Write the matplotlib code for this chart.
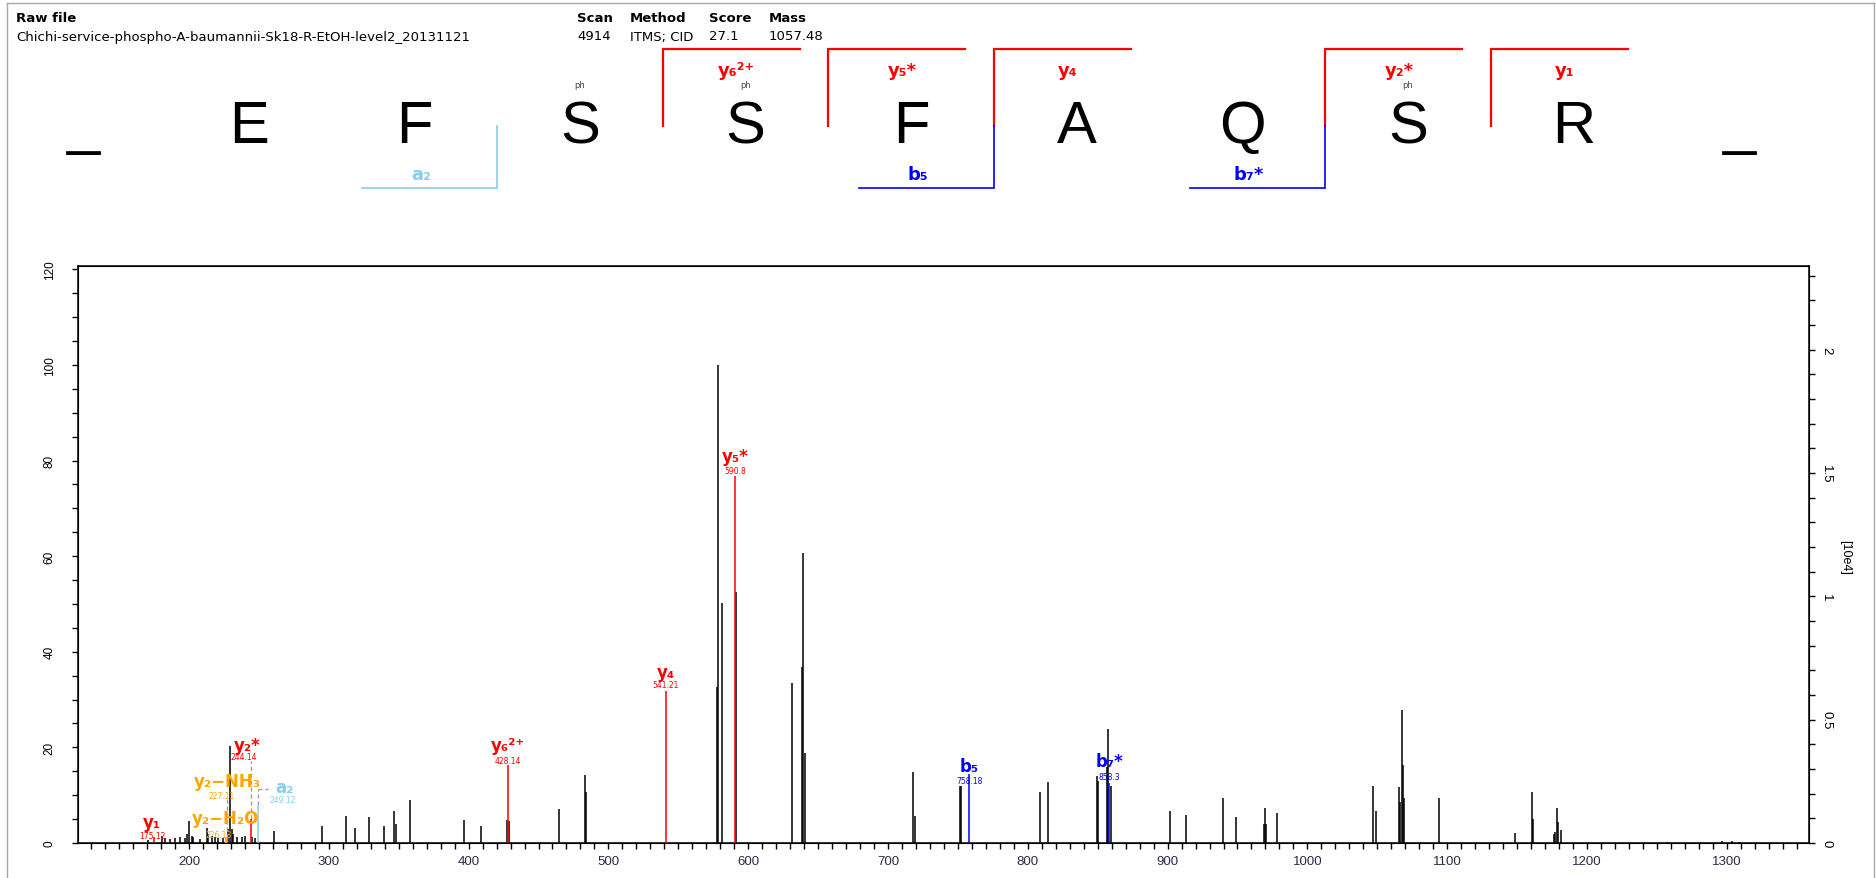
import numpy as np
import matplotlib
matplotlib.use("Agg")
import matplotlib.pyplot as plt
from matplotlib.ticker import MultipleLocator, FuncFormatter

# ---- header info
raw_file = "Chichi-service-phospho-A-baumannii-Sk18-R-EtOH-level2_20131121"
info_heads = ["Scan", "Method", "Score", "Mass"]
info_values = ["4914", "ITMS; CID", "27.1", "1057.48"]

# ---- peptide and fragment coverage
residues = ["E", "F", "S", "S", "F", "A", "Q", "S", "R"]
phospho = [False, False, True, True, False, False, False, True, False]

y_frag_labels = ["y₆²⁺", "y₅*", "y₄", "y₂*", "y₁"]
y_frag_n = [6, 5, 4, 2, 1]
b_frag_labels = ["a₂", "b₅", "b₇*"]
b_frag_n = [2, 5, 7]
b_frag_colors = ["#87ceeb", "#0000ff", "#0000ff"]

# ---- spectrum: unassigned peaks (m/z, relative intensity %)
peak_mz = [171.0, 180.5, 182.8, 186.4, 190.0, 193.6, 197.1, 198.8, 200.2, 201.9,
           203.1, 207.9, 212.6, 213.9, 216.2, 218.6, 221.0, 224.5, 228.1, 229.2,
           230.5, 231.6, 234.0, 237.6, 240.0, 245.3, 247.2, 260.8, 295.0, 312.4,
           319.0, 328.5, 339.7, 346.8, 348.0, 358.2, 396.9, 409.0, 427.4, 428.9,
           464.6, 483.0, 483.9, 577.8, 578.7, 581.3, 591.6, 631.1, 638.5, 639.4,
           640.4, 717.7, 719.5, 751.5, 752.2, 808.7, 814.2, 849.6, 850.2, 856.8,
           857.2, 859.3, 901.7, 913.2, 939.4, 948.7, 969.2, 969.9, 970.5, 978.3,
           1047.1, 1049.1, 1065.7, 1066.2, 1067.6, 1068.3, 1069.3, 1093.9, 1148.5, 1160.7,
           1161.4, 1176.6, 1177.3, 1178.3, 1179.0, 1181.2, 1257.0, 1296.6, 1303.7, 1308.7]
peak_int = [0.7, 1.4, 1.0, 0.8, 1.0, 1.2, 1.0, 1.8, 4.7, 1.5,
            1.2, 0.8, 3.1, 1.8, 1.4, 1.2, 1.0, 1.1, 3.0, 20.2,
            2.9, 1.8, 1.2, 1.3, 1.4, 1.3, 1.0, 2.6, 3.5, 5.7,
            3.1, 5.4, 3.5, 6.6, 4.0, 9.0, 4.8, 3.5, 4.8, 4.6,
            7.1, 14.3, 10.7, 32.6, 100.0, 50.2, 52.6, 33.5, 36.8, 60.7,
            18.8, 14.9, 5.7, 11.9, 11.9, 10.6, 12.8, 14.0, 13.0, 15.8,
            23.8, 11.9, 6.6, 5.9, 9.5, 5.4, 3.9, 7.3, 3.9, 6.2,
            12.0, 6.6, 11.8, 8.5, 27.9, 16.3, 9.4, 9.5, 2.1, 10.6,
            5.0, 1.9, 2.2, 7.3, 4.3, 2.8, 0.3, 0.4, 0.4, 0.3]

# ---- assigned fragment peaks
ion_names = ["y₁", "y₂−H₂O", "y₂−NH₃", "y₂*", "a₂", "y₆²⁺", "y₄", "y₅*", "b₅", "b₇*"]
ion_values = ["175.12", "226.13", "227.11", "244.14", "249.12", "428.14", "541.21", "590.8", "758.18", "858.3"]
ion_mz = [175.12, 226.13, 227.11, 244.14, 249.12, 428.14, 541.21, 590.8, 758.18, 858.3]
ion_int = [1.2, 1.3, 1.0, 5.0, 8.0, 16.3, 31.8, 76.8, 14.4, 12.5]
ion_colors = ["#ff0000", "#ffa500", "#ffa500", "#ff0000", "#87ceeb",
              "#ff0000", "#ff0000", "#ff0000", "#0000ff", "#0000ff"]

base_peak = 1.938  # intensity of the 100 % peak, [10e4]

# label placement (pixels relative to peak top): label dx, label dy, value dx, value dy,
# dashed connector height, horizontal connector length
ann_layout = [(-2, 15, -2, 2, 0, 0), (0, 19, -7, 2, 0, 0), (0, 57, -5, 43, 39, 0),
              (-4, 74, -7, 63, 58, 0), (27, 18, 25, 5, 16, 10), (0, 20, 0, 5, 0, 0),
              (0, 19, 0, 6, 0, 0), (0, 20, 0, 5, 0, 0), (0, 8, 0, -6, 0, 0),
              (0, 22, 0, 7, 0, 0)]

W, H, DPI = 1876, 879, 100
fig = plt.figure(figsize=(W / DPI, H / DPI), dpi=DPI, facecolor="white")

# pixel overlay for the header part
hdr = fig.add_axes([0, 0, 1, 1])
hdr.set_xlim(0, W)
hdr.set_ylim(H, 0)
hdr.axis("off")
hdr.patch.set_alpha(0)

# panel border
border = "#a8a8a8"
hdr.plot([7, 7], [4, H], color=border, lw=1)
hdr.plot([1874, 1874], [4, H], color=border, lw=1)
hdr.plot([7, 1874], [4, 4], color=border, lw=1)

hdr.text(16, 19, "Raw file", fontsize=9.5, fontweight="bold", va="center")
hdr.text(16, 37, raw_file, fontsize=9.5, va="center")
for xh, head, val in zip([577, 630, 709, 769], info_heads, info_values):
    hdr.text(xh, 19, head, fontsize=9.5, fontweight="bold", va="center")
    hdr.text(xh, 37, val, fontsize=9.5, va="center")

# sequence
x0, step = 83, 165.6
seq = ["_"] + residues + ["_"]
for i, aa in enumerate(seq):
    hdr.text(x0 + i * step, 143, aa, fontsize=43, family="Liberation Sans",
             ha="center", va="baseline")
for i, ph in enumerate(phospho):
    if ph:
        hdr.text(x0 + (i + 1) * step, 86, "ph", fontsize=6, color="#444444",
                 ha="center", va="center")

n_res = len(residues)
for lab, n in zip(y_frag_labels, y_frag_n):
    bx = x0 + (n_res - n + 0.5) * step
    hdr.plot([bx, bx, bx + 137], [127, 50, 50], color="#ff0000", lw=1.6,
             solid_joinstyle="miter")
    hdr.text(bx + 74, 71, lab, fontsize=13, fontweight="bold", color="#ff0000",
             ha="center", va="center")
for lab, n, c in zip(b_frag_labels, b_frag_n, b_frag_colors):
    bx = x0 + (n + 0.5) * step
    hdr.plot([bx, bx, bx - 135], [127, 189, 189], color=c, lw=1.2,
             solid_joinstyle="miter")
    hdr.text(bx - 76, 175, lab, fontsize=13, fontweight="bold", color=c,
             ha="center", va="center")

# ---- spectrum
L, R, T, B = 78, 1809, 267, 844
ax = fig.add_axes([L / W, 1 - B / H, (R - L) / W, (B - T) / H])
xlim = (120.6, 1358.8)
ylim = (0, 120.7)
ax.set_xlim(*xlim)
ax.set_ylim(*ylim)
sx = (R - L) / (xlim[1] - xlim[0])
sy = (B - T) / (ylim[1] - ylim[0])

ax.vlines(peak_mz, 0, peak_int, colors="black", lw=1.1)
ax.vlines(ion_mz, 0, ion_int, colors=ion_colors, lw=1.1, zorder=3)

for name, val, mz, it, c, lay in zip(ion_names, ion_values, ion_mz, ion_int,
                                     ion_colors, ann_layout):
    ldx, ldy, vdx, vdy, conn, hconn = lay
    if conn:
        top = it + conn / sy
        ax.plot([mz, mz], [it, top], color="#a0a0a0", lw=1, ls=(0, (3, 2)))
        if hconn:
            ax.plot([mz, mz + hconn / sx], [top, top], color="#a0a0a0", lw=1,
                    ls=(0, (3, 2)))
    ax.annotate(name, (mz, it), xytext=(ldx, ldy), textcoords="offset pixels",
                fontsize=12, fontweight="bold", color=c, ha="center", va="center")
    ax.annotate(val, (mz, it), xytext=(vdx, vdy), textcoords="offset pixels",
                fontsize=5.5, color=c, ha="center", va="center")

tick_font = "Liberation Sans"
ax.xaxis.set_major_locator(MultipleLocator(100))
ax.xaxis.set_minor_locator(MultipleLocator(10))
ax.yaxis.set_major_locator(MultipleLocator(20))
ax.yaxis.set_minor_locator(MultipleLocator(5))
ax.tick_params(axis="x", which="both", direction="out", length=4, width=1,
               labelsize=9.5, labelcolor="#2a2a48", pad=5)
ax.tick_params(axis="y", which="both", direction="out", length=4, width=1,
               labelsize=8.5, pad=12)
for lab in ax.get_xticklabels() + ax.get_yticklabels():
    lab.set_family(tick_font)
for lab in ax.get_yticklabels():
    lab.set_rotation(90)
    lab.set_va("center")
for sp in ax.spines.values():
    sp.set_linewidth(1.1)

ax2 = ax.twinx()
ax2.set_ylim(0, ylim[1] * base_peak / 100)
ax2.yaxis.set_major_locator(MultipleLocator(0.5))
ax2.yaxis.set_minor_locator(MultipleLocator(0.1))
ax2.yaxis.set_major_formatter(FuncFormatter(lambda v, p: f"{v:g}"))
ax2.tick_params(axis="y", which="both", direction="out", length=4, width=1,
                labelsize=9.5, pad=4)
for lab in ax2.get_yticklabels():
    lab.set_family(tick_font)
    lab.set_rotation(-90)
    lab.set_va("center")
ax2.set_ylabel("[10e4]", rotation=-90, fontsize=9, family=tick_font,
               ha="center", va="center")
ax2.yaxis.set_label_coords(1.021, 0.496)

fig.savefig("out.png", dpi=DPI, facecolor="white")
